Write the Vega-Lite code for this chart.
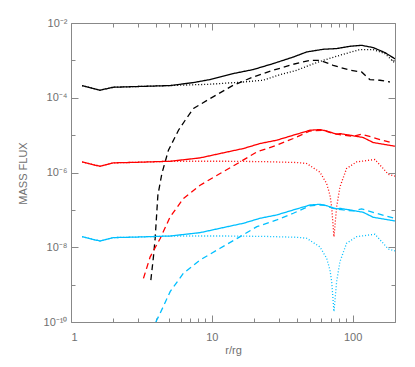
{
  "$schema": "https://vega.github.io/schema/vega-lite/v6.json",
  "width": 324,
  "height": 299,
  "autosize": {"type": "none"},
  "padding": {"left": 71, "top": 23, "right": 20, "bottom": 45},
  "background": "white",
  "config": {
    "view": {"stroke": null},
    "axis": {
      "grid": false,
      "domainColor": "#888888",
      "tickColor": "#888888",
      "labelColor": "#707070",
      "titleColor": "#707070",
      "labelFont": "Liberation Sans",
      "titleFont": "Liberation Sans",
      "labelFontSize": 11,
      "titleFontSize": 11,
      "titleFontWeight": "normal",
      "domainWidth": 1,
      "tickWidth": 1
    }
  },
  "data": {
    "values": [
      {"c": "black", "s": "solid", "x": 1.2, "y": 2.12e-4},
      {"c": "black", "s": "solid", "x": 1.6, "y": 1.59e-4},
      {"c": "black", "s": "solid", "x": 2.0, "y": 1.91e-4},
      {"c": "black", "s": "solid", "x": 3.0, "y": 2.0e-4},
      {"c": "black", "s": "solid", "x": 5.06, "y": 2.12e-4},
      {"c": "black", "s": "solid", "x": 7.41, "y": 2.55e-4},
      {"c": "black", "s": "solid", "x": 9.72, "y": 3.07e-4},
      {"c": "black", "s": "solid", "x": 14.2, "y": 4.44e-4},
      {"c": "black", "s": "solid", "x": 19.7, "y": 5.68e-4},
      {"c": "black", "s": "solid", "x": 27.3, "y": 8.21e-4},
      {"c": "black", "s": "solid", "x": 37.9, "y": 1.23e-3},
      {"c": "black", "s": "solid", "x": 47.2, "y": 1.68e-3},
      {"c": "black", "s": "solid", "x": 61.8, "y": 1.98e-3},
      {"c": "black", "s": "solid", "x": 77.0, "y": 2.07e-3},
      {"c": "black", "s": "solid", "x": 95.7, "y": 2.38e-3},
      {"c": "black", "s": "solid", "x": 115.8, "y": 2.53e-3},
      {"c": "black", "s": "solid", "x": 140, "y": 2.2e-3},
      {"c": "black", "s": "solid", "x": 169.4, "y": 1.62e-3},
      {"c": "black", "s": "solid", "x": 200, "y": 1.1e-3},

      {"c": "black", "s": "dashed", "x": 3.69, "y": 1.32e-9},
      {"c": "black", "s": "dashed", "x": 3.85, "y": 5.53e-9},
      {"c": "black", "s": "dashed", "x": 3.96, "y": 1.75e-8},
      {"c": "black", "s": "dashed", "x": 4.14, "y": 2.47e-7},
      {"c": "black", "s": "dashed", "x": 4.42, "y": 9.4e-7},
      {"c": "black", "s": "dashed", "x": 4.92, "y": 3.95e-6},
      {"c": "black", "s": "dashed", "x": 5.8, "y": 1.35e-5},
      {"c": "black", "s": "dashed", "x": 6.47, "y": 2.5e-5},
      {"c": "black", "s": "dashed", "x": 7.41, "y": 5.14e-5},
      {"c": "black", "s": "dashed", "x": 9.72, "y": 9.52e-5},
      {"c": "black", "s": "dashed", "x": 14.2, "y": 2.16e-4},
      {"c": "black", "s": "dashed", "x": 19.7, "y": 3.6e-4},
      {"c": "black", "s": "dashed", "x": 27.3, "y": 5.44e-4},
      {"c": "black", "s": "dashed", "x": 37.9, "y": 7.87e-4},
      {"c": "black", "s": "dashed", "x": 49.8, "y": 1.0e-3},
      {"c": "black", "s": "dashed", "x": 58.6, "y": 1.0e-3},
      {"c": "black", "s": "dashed", "x": 72.8, "y": 7.4e-4},
      {"c": "black", "s": "dashed", "x": 95.7, "y": 5.44e-4},
      {"c": "black", "s": "dashed", "x": 115.8, "y": 4.9e-4},
      {"c": "black", "s": "dashed", "x": 132.6, "y": 3.07e-4},
      {"c": "black", "s": "dashed", "x": 156.2, "y": 2.94e-4},
      {"c": "black", "s": "dashed", "x": 184, "y": 2.64e-4},

      {"c": "black", "s": "dotted", "x": 1.2, "y": 2.12e-4},
      {"c": "black", "s": "dotted", "x": 1.6, "y": 1.59e-4},
      {"c": "black", "s": "dotted", "x": 2.0, "y": 1.91e-4},
      {"c": "black", "s": "dotted", "x": 3.0, "y": 2.0e-4},
      {"c": "black", "s": "dotted", "x": 5.06, "y": 2.12e-4},
      {"c": "black", "s": "dotted", "x": 9.72, "y": 2.3e-4},
      {"c": "black", "s": "dotted", "x": 16.75, "y": 2.64e-4},
      {"c": "black", "s": "dotted", "x": 23.2, "y": 2.94e-4},
      {"c": "black", "s": "dotted", "x": 28.9, "y": 3.9e-4},
      {"c": "black", "s": "dotted", "x": 40.1, "y": 5.44e-4},
      {"c": "black", "s": "dotted", "x": 49.8, "y": 7.5e-4},
      {"c": "black", "s": "dotted", "x": 61.8, "y": 1.0e-3},
      {"c": "black", "s": "dotted", "x": 81.3, "y": 1.37e-3},
      {"c": "black", "s": "dotted", "x": 112.7, "y": 1.95e-3},
      {"c": "black", "s": "dotted", "x": 140, "y": 1.95e-3},
      {"c": "black", "s": "dotted", "x": 169.4, "y": 1.52e-3},
      {"c": "black", "s": "dotted", "x": 200, "y": 8.5e-4},

      {"c": "red", "s": "solid", "x": 1.2, "y": 1.92e-6},
      {"c": "red", "s": "solid", "x": 1.6, "y": 1.47e-6},
      {"c": "red", "s": "solid", "x": 2.0, "y": 1.81e-6},
      {"c": "red", "s": "solid", "x": 3.0, "y": 1.88e-6},
      {"c": "red", "s": "solid", "x": 5.06, "y": 2.0e-6},
      {"c": "red", "s": "solid", "x": 8.26, "y": 2.46e-6},
      {"c": "red", "s": "solid", "x": 11.45, "y": 3.22e-6},
      {"c": "red", "s": "solid", "x": 16.75, "y": 4.38e-6},
      {"c": "red", "s": "solid", "x": 22.0, "y": 5.96e-6},
      {"c": "red", "s": "solid", "x": 28.9, "y": 7.31e-6},
      {"c": "red", "s": "solid", "x": 37.9, "y": 9.94e-6},
      {"c": "red", "s": "solid", "x": 49.8, "y": 1.35e-5},
      {"c": "red", "s": "solid", "x": 58.6, "y": 1.41e-5},
      {"c": "red", "s": "solid", "x": 65.4, "y": 1.29e-5},
      {"c": "red", "s": "solid", "x": 77.0, "y": 1.06e-5},
      {"c": "red", "s": "solid", "x": 81.3, "y": 1.1e-5},
      {"c": "red", "s": "solid", "x": 95.7, "y": 9.94e-6},
      {"c": "red", "s": "solid", "x": 118.9, "y": 8.63e-6},
      {"c": "red", "s": "solid", "x": 140, "y": 6.34e-6},
      {"c": "red", "s": "solid", "x": 164.8, "y": 5.71e-6},
      {"c": "red", "s": "solid", "x": 200, "y": 5.05e-6},

      {"c": "red", "s": "dashed", "x": 3.27, "y": 1.47e-9},
      {"c": "red", "s": "dashed", "x": 3.65, "y": 5.53e-9},
      {"c": "red", "s": "dashed", "x": 4.3, "y": 1.72e-8},
      {"c": "red", "s": "dashed", "x": 5.06, "y": 6.5e-8},
      {"c": "red", "s": "dashed", "x": 6.29, "y": 2.02e-7},
      {"c": "red", "s": "dashed", "x": 8.26, "y": 4.57e-7},
      {"c": "red", "s": "dashed", "x": 11.45, "y": 9.4e-7},
      {"c": "red", "s": "dashed", "x": 15.9, "y": 1.92e-6},
      {"c": "red", "s": "dashed", "x": 20.9, "y": 3.56e-6},
      {"c": "red", "s": "dashed", "x": 28.9, "y": 5.37e-6},
      {"c": "red", "s": "dashed", "x": 37.9, "y": 8.11e-6},
      {"c": "red", "s": "dashed", "x": 49.8, "y": 1.29e-5},
      {"c": "red", "s": "dashed", "x": 61.8, "y": 1.35e-5},
      {"c": "red", "s": "dashed", "x": 72.8, "y": 1.1e-5},
      {"c": "red", "s": "dashed", "x": 85.8, "y": 9.94e-6},
      {"c": "red", "s": "dashed", "x": 101, "y": 9.35e-6},
      {"c": "red", "s": "dashed", "x": 115.8, "y": 1.06e-5},
      {"c": "red", "s": "dashed", "x": 148, "y": 8.11e-6},
      {"c": "red", "s": "dashed", "x": 194, "y": 6.07e-6},

      {"c": "red", "s": "dotted", "x": 1.2, "y": 1.92e-6},
      {"c": "red", "s": "dotted", "x": 1.6, "y": 1.47e-6},
      {"c": "red", "s": "dotted", "x": 2.0, "y": 1.81e-6},
      {"c": "red", "s": "dotted", "x": 3.0, "y": 1.88e-6},
      {"c": "red", "s": "dotted", "x": 5.06, "y": 2.0e-6},
      {"c": "red", "s": "dotted", "x": 12.77, "y": 2.0e-6},
      {"c": "red", "s": "dotted", "x": 23.9, "y": 1.95e-6},
      {"c": "red", "s": "dotted", "x": 40, "y": 1.85e-6},
      {"c": "red", "s": "dotted", "x": 47.2, "y": 1.74e-6},
      {"c": "red", "s": "dotted", "x": 58.6, "y": 1.02e-6},
      {"c": "red", "s": "dotted", "x": 65.4, "y": 5.08e-7},
      {"c": "red", "s": "dotted", "x": 69.0, "y": 2.5e-7},
      {"c": "red", "s": "dotted", "x": 71.0, "y": 1.2e-7},
      {"c": "red", "s": "dotted", "x": 73.7, "y": 1.9e-8},
      {"c": "red", "s": "dotted", "x": 77.0, "y": 1.2e-7},
      {"c": "red", "s": "dotted", "x": 81.3, "y": 4.12e-7},
      {"c": "red", "s": "dotted", "x": 90.6, "y": 1.28e-6},
      {"c": "red", "s": "dotted", "x": 106.7, "y": 1.92e-6},
      {"c": "red", "s": "dotted", "x": 143.9, "y": 2.23e-6},
      {"c": "red", "s": "dotted", "x": 164.8, "y": 1.28e-6},
      {"c": "red", "s": "dotted", "x": 178.7, "y": 9.0e-7},
      {"c": "red", "s": "dotted", "x": 200, "y": 7.96e-7},

      {"c": "cyan", "s": "solid", "x": 1.2, "y": 1.92e-8},
      {"c": "cyan", "s": "solid", "x": 1.6, "y": 1.47e-8},
      {"c": "cyan", "s": "solid", "x": 2.0, "y": 1.81e-8},
      {"c": "cyan", "s": "solid", "x": 3.0, "y": 1.88e-8},
      {"c": "cyan", "s": "solid", "x": 5.06, "y": 2.0e-8},
      {"c": "cyan", "s": "solid", "x": 8.26, "y": 2.46e-8},
      {"c": "cyan", "s": "solid", "x": 11.45, "y": 3.22e-8},
      {"c": "cyan", "s": "solid", "x": 16.75, "y": 4.38e-8},
      {"c": "cyan", "s": "solid", "x": 22.0, "y": 5.96e-8},
      {"c": "cyan", "s": "solid", "x": 28.9, "y": 7.31e-8},
      {"c": "cyan", "s": "solid", "x": 37.9, "y": 9.94e-8},
      {"c": "cyan", "s": "solid", "x": 49.8, "y": 1.35e-7},
      {"c": "cyan", "s": "solid", "x": 58.6, "y": 1.41e-7},
      {"c": "cyan", "s": "solid", "x": 65.4, "y": 1.29e-7},
      {"c": "cyan", "s": "solid", "x": 77.0, "y": 1.06e-7},
      {"c": "cyan", "s": "solid", "x": 81.3, "y": 1.1e-7},
      {"c": "cyan", "s": "solid", "x": 95.7, "y": 9.94e-8},
      {"c": "cyan", "s": "solid", "x": 118.9, "y": 8.63e-8},
      {"c": "cyan", "s": "solid", "x": 140, "y": 6.34e-8},
      {"c": "cyan", "s": "solid", "x": 164.8, "y": 5.71e-8},
      {"c": "cyan", "s": "solid", "x": 200, "y": 5.05e-8},

      {"c": "cyan", "s": "dashed", "x": 4.0, "y": 1.0e-10},
      {"c": "cyan", "s": "dashed", "x": 4.3, "y": 1.72e-10},
      {"c": "cyan", "s": "dashed", "x": 5.06, "y": 6.5e-10},
      {"c": "cyan", "s": "dashed", "x": 6.29, "y": 2.02e-9},
      {"c": "cyan", "s": "dashed", "x": 8.26, "y": 4.57e-9},
      {"c": "cyan", "s": "dashed", "x": 11.45, "y": 9.4e-9},
      {"c": "cyan", "s": "dashed", "x": 15.9, "y": 1.92e-8},
      {"c": "cyan", "s": "dashed", "x": 20.9, "y": 3.56e-8},
      {"c": "cyan", "s": "dashed", "x": 28.9, "y": 5.37e-8},
      {"c": "cyan", "s": "dashed", "x": 37.9, "y": 8.11e-8},
      {"c": "cyan", "s": "dashed", "x": 49.8, "y": 1.29e-7},
      {"c": "cyan", "s": "dashed", "x": 61.8, "y": 1.35e-7},
      {"c": "cyan", "s": "dashed", "x": 72.8, "y": 1.1e-7},
      {"c": "cyan", "s": "dashed", "x": 85.8, "y": 9.94e-8},
      {"c": "cyan", "s": "dashed", "x": 101, "y": 9.35e-8},
      {"c": "cyan", "s": "dashed", "x": 115.8, "y": 1.06e-7},
      {"c": "cyan", "s": "dashed", "x": 148, "y": 8.11e-8},
      {"c": "cyan", "s": "dashed", "x": 194, "y": 6.07e-8},

      {"c": "cyan", "s": "dotted", "x": 1.2, "y": 1.92e-8},
      {"c": "cyan", "s": "dotted", "x": 1.6, "y": 1.47e-8},
      {"c": "cyan", "s": "dotted", "x": 2.0, "y": 1.81e-8},
      {"c": "cyan", "s": "dotted", "x": 3.0, "y": 1.88e-8},
      {"c": "cyan", "s": "dotted", "x": 5.06, "y": 2.0e-8},
      {"c": "cyan", "s": "dotted", "x": 12.77, "y": 2.0e-8},
      {"c": "cyan", "s": "dotted", "x": 23.9, "y": 1.95e-8},
      {"c": "cyan", "s": "dotted", "x": 40, "y": 1.85e-8},
      {"c": "cyan", "s": "dotted", "x": 47.2, "y": 1.74e-8},
      {"c": "cyan", "s": "dotted", "x": 58.6, "y": 1.02e-8},
      {"c": "cyan", "s": "dotted", "x": 65.4, "y": 5.08e-9},
      {"c": "cyan", "s": "dotted", "x": 69.0, "y": 2.5e-9},
      {"c": "cyan", "s": "dotted", "x": 71.0, "y": 1.2e-9},
      {"c": "cyan", "s": "dotted", "x": 73.7, "y": 1.9e-10},
      {"c": "cyan", "s": "dotted", "x": 77.0, "y": 1.2e-9},
      {"c": "cyan", "s": "dotted", "x": 81.3, "y": 4.12e-9},
      {"c": "cyan", "s": "dotted", "x": 90.6, "y": 1.28e-8},
      {"c": "cyan", "s": "dotted", "x": 106.7, "y": 1.92e-8},
      {"c": "cyan", "s": "dotted", "x": 143.9, "y": 2.23e-8},
      {"c": "cyan", "s": "dotted", "x": 164.8, "y": 1.28e-8},
      {"c": "cyan", "s": "dotted", "x": 178.7, "y": 9.0e-9},
      {"c": "cyan", "s": "dotted", "x": 200, "y": 7.96e-9}
    ]
  },
  "layer": [
    {
      "mark": {"type": "line", "strokeWidth": 1.3, "clip": true},
      "encoding": {
        "x": {
          "field": "x", "type": "quantitative",
          "scale": {"type": "log", "domain": [1, 200], "nice": false},
          "axis": {"orient": "bottom", "values": [1, 10, 100], "tickSize": -7, "labelPadding": 16,
                   "labelExpr": "'' + datum.value", "title": "r/rg",
                   "titleX": 162, "titleY": 28, "titleBaseline": "middle"}
        },
        "y": {
          "field": "y", "type": "quantitative",
          "scale": {"type": "log", "domain": [1e-10, 1e-2], "nice": false},
          "axis": {"orient": "left", "values": [1e-2, 1e-4, 1e-6, 1e-8, 1e-10], "tickSize": -7, "labelPadding": 11,
                   "labelExpr": "datum.value >= 0.005 ? '10⁻²' : datum.value >= 5e-5 ? '10⁻⁴' : datum.value >= 5e-7 ? '10⁻⁶' : datum.value >= 5e-9 ? '10⁻⁸' : '10⁻¹⁰'",
                   "title": "MASS FLUX", "titleX": -48, "titleY": 150, "titleBaseline": "middle"}
        },
        "color": {
          "field": "c", "type": "nominal", "legend": null,
          "scale": {"domain": ["black", "red", "cyan"], "range": ["#000000", "#ff0000", "#00bfff"]}
        },
        "strokeDash": {
          "field": "s", "type": "nominal", "legend": null,
          "scale": {"domain": ["solid", "dashed", "dotted"], "range": [[1, 0], [6, 4], [1, 2]]}
        }
      }
    },
    {
      "mark": {"type": "point", "opacity": 0},
      "encoding": {
        "x": {"field": "x", "type": "quantitative", "scale": {"type": "log", "domain": [1, 200], "nice": false},
              "axis": {"orient": "bottom", "values": [2, 3, 4, 5, 6, 7, 8, 9, 20, 30, 40, 50, 60, 70, 80, 90, 200],
                       "tickSize": -4, "labels": false, "domain": false, "title": null}},
        "y": {"field": "y", "type": "quantitative", "scale": {"type": "log", "domain": [1e-10, 1e-2], "nice": false},
              "axis": {"orient": "left", "values": [1e-3, 1e-5, 1e-7, 1e-9], "tickSize": -4, "labels": false, "domain": false, "title": null}}
      }
    },
    {
      "mark": {"type": "point", "opacity": 0},
      "encoding": {
        "x": {"field": "x", "type": "quantitative", "scale": {"type": "log", "domain": [1, 200], "nice": false},
              "axis": {"orient": "top", "values": [1, 10, 100], "tickSize": -7, "labels": false, "title": null}},
        "y": {"field": "y", "type": "quantitative", "scale": {"type": "log", "domain": [1e-10, 1e-2], "nice": false},
              "axis": {"orient": "right", "values": [1e-2, 1e-4, 1e-6, 1e-8, 1e-10], "tickSize": -7, "labels": false, "title": null}}
      }
    },
    {
      "mark": {"type": "point", "opacity": 0},
      "encoding": {
        "x": {"field": "x", "type": "quantitative", "scale": {"type": "log", "domain": [1, 200], "nice": false},
              "axis": {"orient": "top", "values": [2, 3, 4, 5, 6, 7, 8, 9, 20, 30, 40, 50, 60, 70, 80, 90, 200],
                       "tickSize": -4, "labels": false, "domain": false, "title": null}},
        "y": {"field": "y", "type": "quantitative", "scale": {"type": "log", "domain": [1e-10, 1e-2], "nice": false},
              "axis": {"orient": "right", "values": [1e-3, 1e-5, 1e-7, 1e-9], "tickSize": -4, "labels": false, "domain": false, "title": null}}
      }
    }
  ],
  "resolve": {
    "scale": {"x": "independent", "y": "independent"},
    "axis": {"x": "independent", "y": "independent"}
  }
}
